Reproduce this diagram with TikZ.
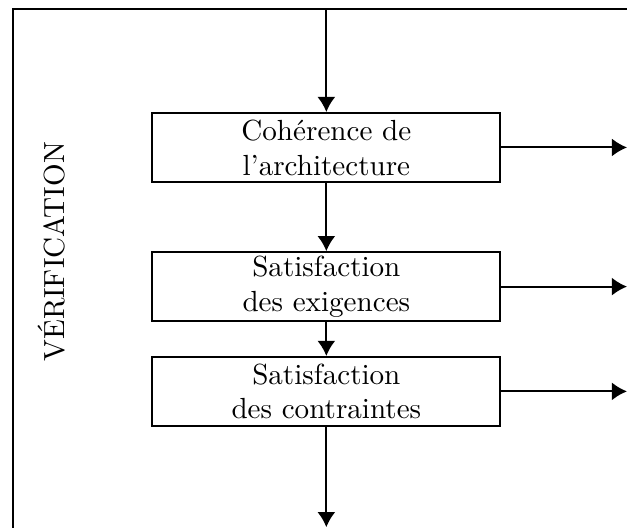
\documentclass[tikz,border=0pt]{standalone}
\usepackage{amsfonts,amssymb,amsmath}
\usepackage{tikz}
\usetikzlibrary{arrows.meta}

\begin{document}
\begin{tikzpicture}[x=1cm,y=-1cm,line width=0.7pt,>={Latex[length=5.2pt,width=6.2pt]},
  etape/.style={draw,minimum width=4.2cm,minimum height=0.83cm,align=center,inner sep=1pt}]
\useasboundingbox (0,0) rectangle (7.57,6.365);
\clip (0,0) rectangle (7.57,6.365);
% cadre
\draw (0.157,7) -- (0.157,0.109) -- (8,0.109);
\node[rotate=90] (verif) at (0.62,3.04) {V\'ERIFICATION};
\coordinate (entree) at (3.94,0.109);
\node[etape] (coher) at (3.94,1.78) {Coh\'erence de\\l'architecture};
\node[etape] (exig) at (3.94,3.46) {Satisfaction\\des exigences};
\node[etape] (contr) at (3.94,4.725) {Satisfaction\\des contraintes};
\coordinate (sortie) at (3.94,6.365);
\draw[->] (entree) -- (coher);
\draw[->] (coher) -- (exig);
\draw[->] (exig) -- (contr);
\draw[->] (contr) -- (sortie);
%\draw (3.94,6.2) node {$x$};
\draw[->] (coher.east) -- (coher.east -| 7.57,0);
\draw[->] (exig.east) -- (exig.east -| 7.57,0);
\draw[->] (contr.east) -- (contr.east -| 7.57,0);
\end{tikzpicture}
\end{document}
